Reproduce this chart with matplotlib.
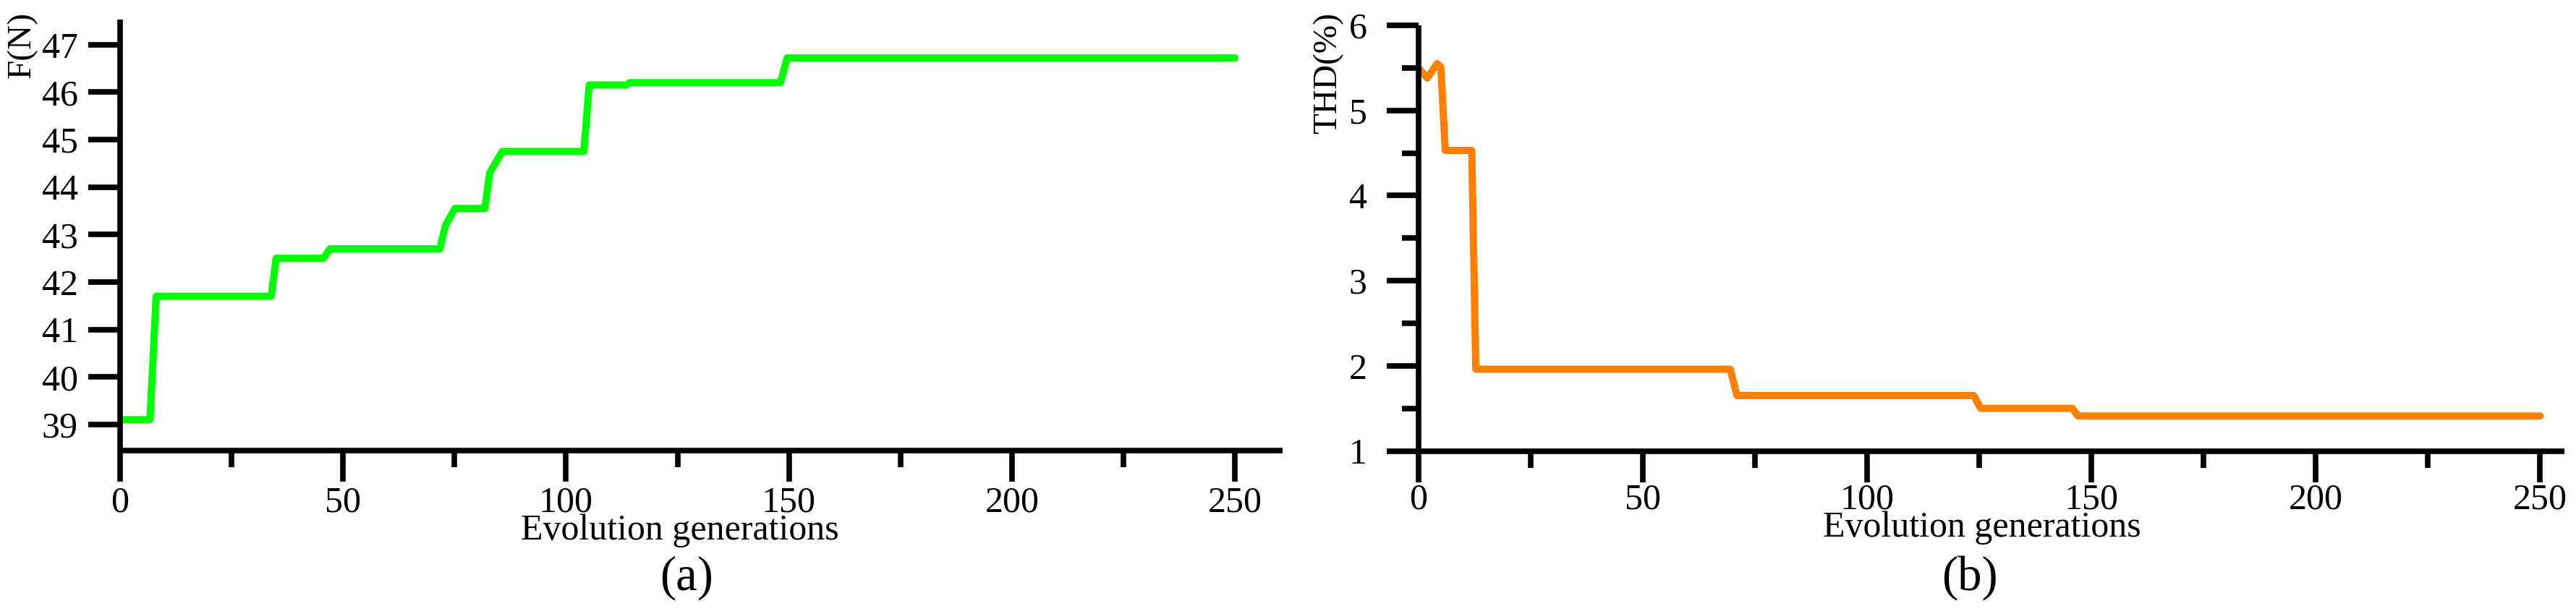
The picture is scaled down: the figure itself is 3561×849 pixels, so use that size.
import matplotlib
matplotlib.use("Agg")
import matplotlib.pyplot as plt
from matplotlib.ticker import MultipleLocator

# (a) best force per generation
gens_a = [0, 6.7, 8.1, 33.9, 35.0, 45.6, 47.1, 71.7, 73.0, 75.1, 81.8, 82.9,
          85.7, 104.0, 105.2, 113.6, 114.3, 148.1, 149.6, 250]
force = [39.1, 39.1, 41.7, 41.7, 42.5, 42.5, 42.7, 42.7, 43.2, 43.55, 43.55,
         44.3, 44.75, 44.75, 46.15, 46.15, 46.2, 46.2, 46.72, 46.72]

# (b) THD per generation
gens_b = [0, 2.0, 4.2, 5.0, 6.0, 11.9, 12.8, 69.5, 71.0, 123.8, 125.3,
          145.7, 147.0, 250]
thd = [5.5, 5.38, 5.55, 5.51, 4.53, 4.53, 1.96, 1.96, 1.65, 1.65, 1.5, 1.5,
       1.41, 1.41]

x_ticks = [0, 50, 100, 150, 200, 250]
f_ticks = [39, 40, 41, 42, 43, 44, 45, 46, 47]
thd_ticks = [1, 2, 3, 4, 5, 6]

plt.rcParams["font.family"] = ["Liberation Serif", "DejaVu Serif"]
plt.rcParams["font.size"] = 36

fig = plt.figure(figsize=(35.61, 8.49), dpi=100, facecolor="white")

ax_a = fig.add_axes([0.0466, 0.2662, 0.4513, 0.702])
ax_b = fig.add_axes([0.5506, 0.2656, 0.4449, 0.6932])


def style_axes(ax, ypad):
    for side in ["top", "right"]:
        ax.spines[side].set_visible(False)
    for side in ["left", "bottom"]:
        ax.spines[side].set_linewidth(5.5)
        ax.spines[side].set_capstyle("butt")
    ax.xaxis.set_minor_locator(MultipleLocator(25))
    ax.tick_params(axis="both", which="major", direction="out", width=5.5,
                   labelsize=36)
    ax.tick_params(axis="x", which="major", length=31, pad=4)
    ax.tick_params(axis="x", which="minor", direction="out", length=16.5,
                   width=5.5)
    ax.tick_params(axis="y", which="major", length=32, pad=ypad)
    ax.set_xticks(x_ticks)


# ── (a) ─────────────────────────────────────────
ax_a.plot(gens_a, force, color="#00FF00", linewidth=7.2,
          solid_capstyle="round", solid_joinstyle="round")
ax_a.set_xlim(0, 260.7)
ax_a.set_ylim(38.45, 47.53)
ax_a.set_yticks(f_ticks)
style_axes(ax_a, 10)
ax_a.set_ylabel("F(N)", fontsize=34)
ax_a.yaxis.label.set_va("center")
ax_a.yaxis.set_label_coords(-0.084, 0.941)
ax_a.set_xlabel("Evolution generations", fontsize=36)
ax_a.xaxis.label.set_va("baseline")
ax_a.xaxis.set_label_coords(0.4816, -0.206)

# ── (b) ─────────────────────────────────────────
ax_b.plot(gens_b, thd, color="#FF8000", linewidth=7.2,
          solid_capstyle="round", solid_joinstyle="round")
ax_b.set_xlim(0, 255.4)
ax_b.set_ylim(1, 6)
ax_b.set_yticks(thd_ticks)
ax_b.yaxis.set_minor_locator(MultipleLocator(0.5))
style_axes(ax_b, 19)
ax_b.tick_params(axis="y", which="minor", direction="out", length=16.5,
                 width=5.5)
ax_b.tick_params(axis="x", which="major", pad=1)
ax_b.set_ylabel("THD(%)", fontsize=34)
ax_b.yaxis.label.set_va("center")
ax_b.yaxis.set_label_coords(-0.079, 0.888)
ax_b.set_xlabel("Evolution generations", fontsize=36)
ax_b.xaxis.label.set_va("baseline")
ax_b.xaxis.set_label_coords(0.492, -0.202)

fig.text(0.2665, 0.039, "(a)", fontsize=48, ha="center", va="baseline")
fig.text(0.7647, 0.040, "(b)", fontsize=48, ha="center", va="baseline")

fig.savefig("out.png", dpi=100, facecolor="white")
